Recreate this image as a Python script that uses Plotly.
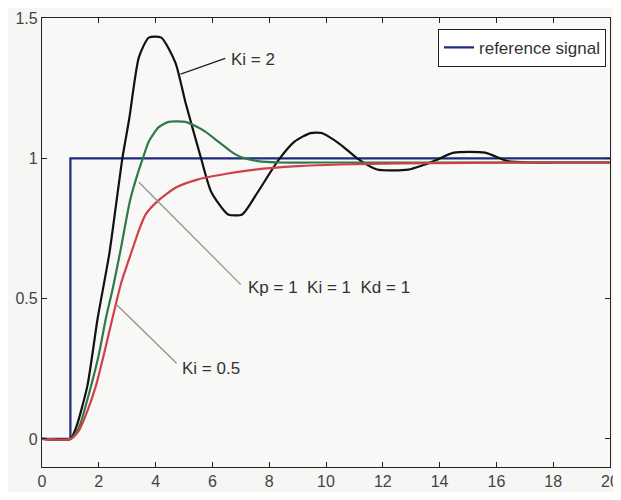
import plotly.graph_objects as go

# reference step signal
t_ref = [0, 1, 1, 20]
y_ref = [0, 0, 1, 1]

# Ki = 2 (black)
t_ki2 = [0, 1, 1.2, 1.6, 1.96, 2.37, 2.83, 3.07, 3.41, 3.76, 4.2, 4.7, 5.05, 5.6, 5.96,
         6.55, 7.05, 7.6, 8.3, 8.9, 9.45, 9.85, 10.5, 11.1, 11.8, 12.9, 13.4, 13.8, 14.5,
         15.6, 16.4, 17.2, 18, 20]
y_ki2 = [0, 0, 0.04, 0.19, 0.43, 0.66, 1.0, 1.14, 1.36, 1.43, 1.43, 1.34, 1.20, 1.0, 0.88,
         0.80, 0.80, 0.88, 0.99, 1.06, 1.09, 1.09, 1.05, 1.0, 0.96, 0.96, 0.975, 0.99, 1.02,
         1.02, 0.99, 0.985, 0.985, 0.985]

# Kp = 1, Ki = 1, Kd = 1 (green)
t_ki1 = [0, 1, 1.3, 1.73, 2.0, 2.25, 2.5, 2.78, 3.1, 3.4, 3.55, 3.76, 4.1, 4.46, 5.05,
         5.4, 5.75, 6.2, 6.65, 7.0, 7.6, 8.4, 9.5, 11, 13, 15, 17, 20]
y_ki1 = [0, 0, 0.04, 0.19, 0.3, 0.43, 0.54, 0.68, 0.85, 0.955, 1.0, 1.06, 1.11, 1.13, 1.13,
         1.115, 1.095, 1.06, 1.025, 1.005, 0.99, 0.985, 0.985, 0.985, 0.985, 0.985, 0.985, 0.985]

# Ki = 0.5 (red)
t_ki05 = [0, 1, 1.3, 1.6, 1.9, 2.2, 2.48, 2.8, 3.13, 3.4, 3.65, 4.1, 4.7, 5.5, 6.5, 7.5,
          9, 10.5, 12.5, 15, 17.5, 20]
y_ki05 = [0, 0, 0.03, 0.1, 0.19, 0.31, 0.43, 0.56, 0.66, 0.74, 0.80, 0.85, 0.895, 0.925,
          0.945, 0.96, 0.972, 0.978, 0.982, 0.984, 0.985, 0.985]

x_ticks = [0, 2, 4, 6, 8, 10, 12, 14, 16, 18, 20]
y_ticks = [0, 0.5, 1, 1.5]
y_tick_text = ["0", "0.5", "1", "1.5"]

font = "Liberation Sans, Arial, sans-serif"

fig = go.Figure()
fig.add_trace(go.Scatter(x=t_ref, y=y_ref, mode="lines", name="reference signal",
                         line=dict(color="#1f2a7a", width=2.2)))
fig.add_trace(go.Scatter(x=t_ki2, y=y_ki2, mode="lines", showlegend=False,
                         line=dict(color="#111111", width=2.2, shape="spline", smoothing=0.6)))
fig.add_trace(go.Scatter(x=t_ki1, y=y_ki1, mode="lines", showlegend=False,
                         line=dict(color="#2f7a48", width=2.2, shape="spline", smoothing=0.6)))
fig.add_trace(go.Scatter(x=t_ki05, y=y_ki05, mode="lines", showlegend=False,
                         line=dict(color="#d04048", width=2.2, shape="spline", smoothing=0.6)))

# pointer lines
pointers = [
    (4.88, 1.30, 6.45, 1.356, "#222222"),
    (3.41, 0.915, 7.0, 0.55, "#8a9a90"),
    (2.61, 0.48, 4.74, 0.27, "#a08a8c"),
]
for x0, y0, x1, y1, c in pointers:
    fig.add_shape(type="line", x0=x0, y0=y0, x1=x1, y1=y1, xref="x", yref="y",
                  line=dict(color=c, width=1.3))

labels = [
    (6.6, 1.352, "Ki = 2"),
    (7.2, 0.54, "Kp = 1  Ki = 1  Kd = 1"),
    (4.85, 0.25, "Ki = 0.5"),
]
for x, y, txt in labels:
    fig.add_annotation(x=x, y=y, text=txt, showarrow=False, xanchor="left", yanchor="middle",
                       font=dict(family=font, size=17, color="#333333"))

axis_common = dict(showline=True, mirror="allticks", ticks="inside", ticklen=5,
                   linecolor="#222222", linewidth=1.2, tickcolor="#222222",
                   showgrid=False, zeroline=False, ticklabeloverflow="allow",
                   tickfont=dict(family=font, size=16, color="#444444"))

# page body has an 8px margin; keep the page height inside the 500px window
fig.update_layout(
    autosize=False,
    width=613, height=484,
    margin=dict(l=34, r=2, t=6, b=25),
    paper_bgcolor="#f6f6f5", plot_bgcolor="#f8f8f7",
    xaxis=dict(range=[0, 20], tickvals=x_ticks, **axis_common),
    yaxis=dict(range=[-0.1, 1.5], tickvals=y_ticks, ticktext=y_tick_text, **axis_common),
    legend=dict(x=0.993, y=0.976, xanchor="right", yanchor="top",
                bgcolor="#ffffff", bordercolor="#222222", borderwidth=1,
                font=dict(family=font, size=17, color="#333333")),
)

fig.write_html("out.html", config={"responsive": False})
